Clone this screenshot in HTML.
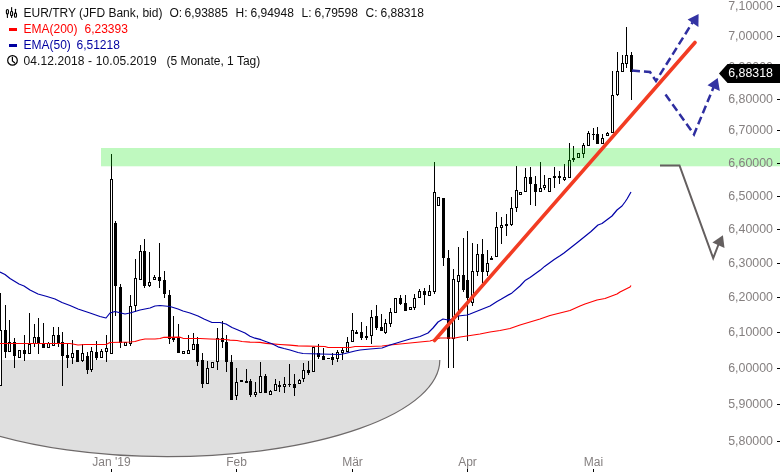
<!DOCTYPE html>
<html><head><meta charset="utf-8"><style>
html,body{margin:0;padding:0;background:#fff;width:780px;height:472px;overflow:hidden}
svg{display:block;will-change:transform}
</style></head><body>
<svg width="780" height="472" viewBox="0 0 780 472"><defs><clipPath id="ec"><rect x="0" y="360" width="780" height="112"/></clipPath><clipPath id="pc"><rect x="0" y="0" width="705" height="472"/></clipPath></defs><g clip-path="url(#ec)"><ellipse cx="167.3" cy="360" rx="272.5" ry="96.7" fill="#dfdfdf" stroke="#6e6a6a" stroke-width="1.2"/></g><g shape-rendering="crispEdges"><rect x="0" y="293" width="1" height="93" fill="#000"/><rect x="-1" y="330" width="3" height="56" fill="#000"/><rect x="0" y="331" width="1" height="54" fill="#fff"/><rect x="5" y="305" width="1" height="53" fill="#000"/><rect x="4" y="330" width="3" height="22" fill="#000"/><rect x="9" y="320" width="1" height="32" fill="#000"/><rect x="8" y="342" width="3" height="10" fill="#000"/><rect x="9" y="343" width="1" height="8" fill="#fff"/><rect x="14" y="338" width="1" height="30" fill="#000"/><rect x="13" y="342" width="3" height="14" fill="#000"/><rect x="19" y="350" width="1" height="8" fill="#000"/><rect x="18" y="350" width="3" height="8" fill="#000"/><rect x="19" y="351" width="1" height="6" fill="#fff"/><rect x="24" y="335" width="1" height="26" fill="#000"/><rect x="23" y="350" width="3" height="4" fill="#000"/><rect x="29" y="313" width="1" height="41" fill="#000"/><rect x="28" y="344" width="3" height="10" fill="#000"/><rect x="29" y="345" width="1" height="8" fill="#fff"/><rect x="34" y="324" width="1" height="23" fill="#000"/><rect x="33" y="337" width="3" height="7" fill="#000"/><rect x="34" y="338" width="1" height="5" fill="#fff"/><rect x="38" y="318" width="1" height="36" fill="#000"/><rect x="37" y="337" width="3" height="7" fill="#000"/><rect x="43" y="323" width="1" height="25" fill="#000"/><rect x="42" y="344" width="3" height="4" fill="#000"/><rect x="48" y="342" width="1" height="6" fill="#000"/><rect x="47" y="343" width="3" height="5" fill="#000"/><rect x="48" y="344" width="1" height="3" fill="#fff"/><rect x="53" y="327" width="1" height="19" fill="#000"/><rect x="52" y="335" width="3" height="11" fill="#000"/><rect x="53" y="336" width="1" height="9" fill="#fff"/><rect x="58" y="327" width="1" height="20" fill="#000"/><rect x="57" y="335" width="3" height="9" fill="#000"/><rect x="62" y="332" width="1" height="54" fill="#000"/><rect x="61" y="342" width="3" height="14" fill="#000"/><rect x="67" y="344" width="1" height="24" fill="#000"/><rect x="66" y="355" width="3" height="3" fill="#000"/><rect x="72" y="340" width="1" height="24" fill="#000"/><rect x="71" y="353" width="3" height="5" fill="#000"/><rect x="72" y="354" width="1" height="3" fill="#fff"/><rect x="77" y="350" width="1" height="12" fill="#000"/><rect x="76" y="350" width="3" height="12" fill="#000"/><rect x="82" y="344" width="1" height="18" fill="#000"/><rect x="81" y="353" width="3" height="8" fill="#000"/><rect x="82" y="354" width="1" height="6" fill="#fff"/><rect x="87" y="352" width="1" height="22" fill="#000"/><rect x="86" y="356" width="3" height="14" fill="#000"/><rect x="91" y="347" width="1" height="25" fill="#000"/><rect x="90" y="351" width="3" height="19" fill="#000"/><rect x="91" y="352" width="1" height="17" fill="#fff"/><rect x="96" y="341" width="1" height="19" fill="#000"/><rect x="95" y="352" width="3" height="6" fill="#000"/><rect x="101" y="349" width="1" height="9" fill="#000"/><rect x="100" y="351" width="3" height="7" fill="#000"/><rect x="101" y="352" width="1" height="5" fill="#fff"/><rect x="106" y="335" width="1" height="27" fill="#000"/><rect x="105" y="348" width="3" height="4" fill="#000"/><rect x="106" y="349" width="1" height="2" fill="#fff"/><rect x="111" y="154" width="1" height="200" fill="#000"/><rect x="110" y="179" width="3" height="175" fill="#000"/><rect x="111" y="180" width="1" height="173" fill="#fff"/><rect x="115" y="221" width="1" height="95" fill="#000"/><rect x="114" y="223" width="3" height="63" fill="#000"/><rect x="120" y="284" width="1" height="64" fill="#000"/><rect x="119" y="287" width="3" height="56" fill="#000"/><rect x="125" y="342" width="1" height="4" fill="#000"/><rect x="124" y="342" width="3" height="4" fill="#000"/><rect x="125" y="343" width="1" height="2" fill="#fff"/><rect x="130" y="295" width="1" height="51" fill="#000"/><rect x="129" y="306" width="3" height="38" fill="#000"/><rect x="130" y="307" width="1" height="36" fill="#fff"/><rect x="135" y="259" width="1" height="53" fill="#000"/><rect x="134" y="278" width="3" height="28" fill="#000"/><rect x="135" y="279" width="1" height="26" fill="#fff"/><rect x="140" y="245" width="1" height="35" fill="#000"/><rect x="139" y="251" width="3" height="29" fill="#000"/><rect x="140" y="252" width="1" height="27" fill="#fff"/><rect x="144" y="239" width="1" height="49" fill="#000"/><rect x="143" y="251" width="3" height="35" fill="#000"/><rect x="149" y="252" width="1" height="35" fill="#000"/><rect x="148" y="282" width="3" height="4" fill="#000"/><rect x="149" y="283" width="1" height="2" fill="#fff"/><rect x="154" y="275" width="1" height="5" fill="#000"/><rect x="153" y="277" width="3" height="3" fill="#000"/><rect x="154" y="278" width="1" height="1" fill="#fff"/><rect x="159" y="243" width="1" height="45" fill="#000"/><rect x="158" y="277" width="3" height="4" fill="#000"/><rect x="164" y="271" width="1" height="27" fill="#000"/><rect x="163" y="280" width="3" height="14" fill="#000"/><rect x="169" y="290" width="1" height="54" fill="#000"/><rect x="168" y="295" width="3" height="44" fill="#000"/><rect x="173" y="316" width="1" height="26" fill="#000"/><rect x="172" y="337" width="3" height="3" fill="#000"/><rect x="178" y="324" width="1" height="29" fill="#000"/><rect x="177" y="337" width="3" height="16" fill="#000"/><rect x="183" y="351" width="1" height="3" fill="#000"/><rect x="182" y="351" width="3" height="3" fill="#000"/><rect x="183" y="352" width="1" height="1" fill="#fff"/><rect x="188" y="335" width="1" height="19" fill="#000"/><rect x="187" y="350" width="3" height="4" fill="#000"/><rect x="188" y="351" width="1" height="2" fill="#fff"/><rect x="193" y="333" width="1" height="17" fill="#000"/><rect x="192" y="344" width="3" height="6" fill="#000"/><rect x="193" y="345" width="1" height="4" fill="#fff"/><rect x="197" y="337" width="1" height="29" fill="#000"/><rect x="196" y="344" width="3" height="18" fill="#000"/><rect x="202" y="353" width="1" height="35" fill="#000"/><rect x="201" y="360" width="3" height="24" fill="#000"/><rect x="207" y="361" width="1" height="23" fill="#000"/><rect x="206" y="368" width="3" height="16" fill="#000"/><rect x="207" y="369" width="1" height="14" fill="#fff"/><rect x="212" y="362" width="1" height="6" fill="#000"/><rect x="211" y="362" width="3" height="6" fill="#000"/><rect x="212" y="363" width="1" height="4" fill="#fff"/><rect x="217" y="328" width="1" height="42" fill="#000"/><rect x="216" y="338" width="3" height="24" fill="#000"/><rect x="217" y="339" width="1" height="22" fill="#fff"/><rect x="222" y="321" width="1" height="27" fill="#000"/><rect x="221" y="338" width="3" height="4" fill="#000"/><rect x="226" y="335" width="1" height="37" fill="#000"/><rect x="225" y="342" width="3" height="20" fill="#000"/><rect x="231" y="355" width="1" height="45" fill="#000"/><rect x="230" y="362" width="3" height="38" fill="#000"/><rect x="236" y="368" width="1" height="32" fill="#000"/><rect x="235" y="382" width="3" height="14" fill="#000"/><rect x="236" y="383" width="1" height="12" fill="#fff"/><rect x="241" y="380" width="1" height="2" fill="#000"/><rect x="240" y="380" width="3" height="2" fill="#000"/><rect x="246" y="369" width="1" height="14" fill="#000"/><rect x="245" y="381" width="3" height="2" fill="#000"/><rect x="250" y="379" width="1" height="18" fill="#000"/><rect x="249" y="381" width="3" height="14" fill="#000"/><rect x="255" y="382" width="1" height="15" fill="#000"/><rect x="254" y="392" width="3" height="3" fill="#000"/><rect x="255" y="393" width="1" height="1" fill="#fff"/><rect x="260" y="362" width="1" height="31" fill="#000"/><rect x="259" y="376" width="3" height="17" fill="#000"/><rect x="260" y="377" width="1" height="15" fill="#fff"/><rect x="265" y="374" width="1" height="19" fill="#000"/><rect x="264" y="376" width="3" height="17" fill="#000"/><rect x="270" y="390" width="1" height="5" fill="#000"/><rect x="269" y="391" width="3" height="4" fill="#000"/><rect x="270" y="392" width="1" height="2" fill="#fff"/><rect x="275" y="379" width="1" height="12" fill="#000"/><rect x="274" y="384" width="3" height="7" fill="#000"/><rect x="275" y="385" width="1" height="5" fill="#fff"/><rect x="279" y="381" width="1" height="11" fill="#000"/><rect x="278" y="385" width="3" height="2" fill="#000"/><rect x="284" y="377" width="1" height="16" fill="#000"/><rect x="283" y="384" width="3" height="3" fill="#000"/><rect x="284" y="385" width="1" height="1" fill="#fff"/><rect x="289" y="364" width="1" height="23" fill="#000"/><rect x="288" y="384" width="3" height="1" fill="#000"/><rect x="294" y="374" width="1" height="22" fill="#000"/><rect x="293" y="384" width="3" height="4" fill="#000"/><rect x="299" y="379" width="1" height="5" fill="#000"/><rect x="298" y="380" width="3" height="4" fill="#000"/><rect x="299" y="381" width="1" height="2" fill="#fff"/><rect x="303" y="363" width="1" height="19" fill="#000"/><rect x="302" y="370" width="3" height="9" fill="#000"/><rect x="303" y="371" width="1" height="7" fill="#fff"/><rect x="308" y="361" width="1" height="14" fill="#000"/><rect x="307" y="370" width="3" height="3" fill="#000"/><rect x="313" y="347" width="1" height="25" fill="#000"/><rect x="312" y="347" width="3" height="25" fill="#000"/><rect x="313" y="348" width="1" height="23" fill="#fff"/><rect x="318" y="344" width="1" height="15" fill="#000"/><rect x="317" y="353" width="3" height="4" fill="#000"/><rect x="323" y="348" width="1" height="12" fill="#000"/><rect x="322" y="356" width="3" height="4" fill="#000"/><rect x="328" y="358" width="1" height="1" fill="#000"/><rect x="327" y="358" width="3" height="1" fill="#000"/><rect x="332" y="353" width="1" height="12" fill="#000"/><rect x="331" y="357" width="3" height="3" fill="#000"/><rect x="337" y="350" width="1" height="12" fill="#000"/><rect x="336" y="352" width="3" height="7" fill="#000"/><rect x="337" y="353" width="1" height="5" fill="#fff"/><rect x="342" y="348" width="1" height="12" fill="#000"/><rect x="341" y="350" width="3" height="3" fill="#000"/><rect x="342" y="351" width="1" height="1" fill="#fff"/><rect x="347" y="337" width="1" height="15" fill="#000"/><rect x="346" y="342" width="3" height="10" fill="#000"/><rect x="347" y="343" width="1" height="8" fill="#fff"/><rect x="352" y="313" width="1" height="29" fill="#000"/><rect x="351" y="330" width="3" height="12" fill="#000"/><rect x="352" y="331" width="1" height="10" fill="#fff"/><rect x="356" y="330" width="1" height="4" fill="#000"/><rect x="355" y="332" width="3" height="2" fill="#000"/><rect x="361" y="322" width="1" height="18" fill="#000"/><rect x="360" y="332" width="3" height="6" fill="#000"/><rect x="366" y="326" width="1" height="14" fill="#000"/><rect x="365" y="336" width="3" height="2" fill="#000"/><rect x="371" y="310" width="1" height="34" fill="#000"/><rect x="370" y="317" width="3" height="19" fill="#000"/><rect x="371" y="318" width="1" height="17" fill="#fff"/><rect x="376" y="305" width="1" height="25" fill="#000"/><rect x="375" y="316" width="3" height="12" fill="#000"/><rect x="381" y="314" width="1" height="17" fill="#000"/><rect x="380" y="327" width="3" height="4" fill="#000"/><rect x="385" y="319" width="1" height="15" fill="#000"/><rect x="384" y="323" width="3" height="10" fill="#000"/><rect x="385" y="324" width="1" height="8" fill="#fff"/><rect x="390" y="308" width="1" height="19" fill="#000"/><rect x="389" y="312" width="3" height="12" fill="#000"/><rect x="390" y="313" width="1" height="10" fill="#fff"/><rect x="395" y="298" width="1" height="15" fill="#000"/><rect x="394" y="298" width="3" height="15" fill="#000"/><rect x="395" y="299" width="1" height="13" fill="#fff"/><rect x="400" y="295" width="1" height="10" fill="#000"/><rect x="399" y="298" width="3" height="6" fill="#000"/><rect x="405" y="295" width="1" height="16" fill="#000"/><rect x="404" y="303" width="3" height="8" fill="#000"/><rect x="410" y="307" width="1" height="3" fill="#000"/><rect x="409" y="307" width="3" height="3" fill="#000"/><rect x="410" y="308" width="1" height="1" fill="#fff"/><rect x="414" y="294" width="1" height="16" fill="#000"/><rect x="413" y="298" width="3" height="10" fill="#000"/><rect x="414" y="299" width="1" height="8" fill="#fff"/><rect x="419" y="289" width="1" height="9" fill="#000"/><rect x="418" y="291" width="3" height="7" fill="#000"/><rect x="419" y="292" width="1" height="5" fill="#fff"/><rect x="424" y="288" width="1" height="17" fill="#000"/><rect x="423" y="291" width="3" height="4" fill="#000"/><rect x="429" y="285" width="1" height="11" fill="#000"/><rect x="428" y="291" width="3" height="5" fill="#000"/><rect x="429" y="292" width="1" height="3" fill="#fff"/><rect x="434" y="162" width="1" height="132" fill="#000"/><rect x="433" y="192" width="3" height="100" fill="#000"/><rect x="434" y="193" width="1" height="98" fill="#fff"/><rect x="438" y="197" width="1" height="9" fill="#000"/><rect x="437" y="197" width="3" height="9" fill="#000"/><rect x="438" y="198" width="1" height="7" fill="#fff"/><rect x="443" y="198" width="1" height="68" fill="#000"/><rect x="442" y="198" width="3" height="60" fill="#000"/><rect x="448" y="250" width="1" height="118" fill="#000"/><rect x="447" y="258" width="3" height="81" fill="#000"/><rect x="453" y="269" width="1" height="99" fill="#000"/><rect x="452" y="279" width="3" height="60" fill="#000"/><rect x="453" y="280" width="1" height="58" fill="#fff"/><rect x="458" y="247" width="1" height="73" fill="#000"/><rect x="457" y="275" width="3" height="7" fill="#000"/><rect x="458" y="276" width="1" height="5" fill="#fff"/><rect x="463" y="238" width="1" height="54" fill="#000"/><rect x="462" y="275" width="3" height="15" fill="#000"/><rect x="467" y="231" width="1" height="110" fill="#000"/><rect x="466" y="280" width="3" height="18" fill="#000"/><rect x="472" y="243" width="1" height="63" fill="#000"/><rect x="471" y="271" width="3" height="32" fill="#000"/><rect x="472" y="272" width="1" height="30" fill="#fff"/><rect x="477" y="244" width="1" height="32" fill="#000"/><rect x="476" y="254" width="3" height="18" fill="#000"/><rect x="477" y="255" width="1" height="16" fill="#fff"/><rect x="482" y="239" width="1" height="44" fill="#000"/><rect x="481" y="254" width="3" height="18" fill="#000"/><rect x="487" y="250" width="1" height="26" fill="#000"/><rect x="486" y="263" width="3" height="9" fill="#000"/><rect x="487" y="264" width="1" height="7" fill="#fff"/><rect x="491" y="256" width="1" height="4" fill="#000"/><rect x="490" y="258" width="3" height="2" fill="#000"/><rect x="496" y="212" width="1" height="45" fill="#000"/><rect x="495" y="227" width="3" height="30" fill="#000"/><rect x="496" y="228" width="1" height="28" fill="#fff"/><rect x="501" y="217" width="1" height="27" fill="#000"/><rect x="500" y="225" width="3" height="3" fill="#000"/><rect x="501" y="226" width="1" height="1" fill="#fff"/><rect x="506" y="214" width="1" height="22" fill="#000"/><rect x="505" y="224" width="3" height="2" fill="#000"/><rect x="511" y="197" width="1" height="29" fill="#000"/><rect x="510" y="208" width="3" height="17" fill="#000"/><rect x="511" y="209" width="1" height="15" fill="#fff"/><rect x="516" y="166" width="1" height="46" fill="#000"/><rect x="515" y="190" width="3" height="18" fill="#000"/><rect x="516" y="191" width="1" height="16" fill="#fff"/><rect x="520" y="192" width="1" height="3" fill="#000"/><rect x="519" y="192" width="3" height="3" fill="#000"/><rect x="520" y="193" width="1" height="1" fill="#fff"/><rect x="525" y="168" width="1" height="24" fill="#000"/><rect x="524" y="177" width="3" height="15" fill="#000"/><rect x="525" y="178" width="1" height="13" fill="#fff"/><rect x="530" y="167" width="1" height="38" fill="#000"/><rect x="529" y="177" width="3" height="7" fill="#000"/><rect x="535" y="176" width="1" height="30" fill="#000"/><rect x="534" y="184" width="3" height="8" fill="#000"/><rect x="540" y="162" width="1" height="30" fill="#000"/><rect x="539" y="188" width="3" height="4" fill="#000"/><rect x="540" y="189" width="1" height="2" fill="#fff"/><rect x="544" y="175" width="1" height="15" fill="#000"/><rect x="543" y="185" width="3" height="3" fill="#000"/><rect x="544" y="186" width="1" height="1" fill="#fff"/><rect x="549" y="178" width="1" height="14" fill="#000"/><rect x="548" y="178" width="3" height="14" fill="#000"/><rect x="549" y="179" width="1" height="12" fill="#fff"/><rect x="554" y="167" width="1" height="21" fill="#000"/><rect x="553" y="176" width="3" height="2" fill="#000"/><rect x="559" y="171" width="1" height="13" fill="#000"/><rect x="558" y="176" width="3" height="2" fill="#000"/><rect x="564" y="164" width="1" height="17" fill="#000"/><rect x="563" y="177" width="3" height="3" fill="#000"/><rect x="564" y="178" width="1" height="1" fill="#fff"/><rect x="569" y="143" width="1" height="35" fill="#000"/><rect x="568" y="160" width="3" height="18" fill="#000"/><rect x="569" y="161" width="1" height="16" fill="#fff"/><rect x="573" y="146" width="1" height="16" fill="#000"/><rect x="572" y="158" width="3" height="2" fill="#000"/><rect x="578" y="153" width="1" height="5" fill="#000"/><rect x="577" y="153" width="3" height="5" fill="#000"/><rect x="578" y="154" width="1" height="3" fill="#fff"/><rect x="583" y="143" width="1" height="15" fill="#000"/><rect x="582" y="145" width="3" height="9" fill="#000"/><rect x="583" y="146" width="1" height="7" fill="#fff"/><rect x="588" y="131" width="1" height="15" fill="#000"/><rect x="587" y="133" width="3" height="13" fill="#000"/><rect x="588" y="134" width="1" height="11" fill="#fff"/><rect x="593" y="128" width="1" height="12" fill="#000"/><rect x="592" y="134" width="3" height="1" fill="#000"/><rect x="597" y="127" width="1" height="17" fill="#000"/><rect x="596" y="134" width="3" height="10" fill="#000"/><rect x="602" y="134" width="1" height="10" fill="#000"/><rect x="601" y="138" width="3" height="6" fill="#000"/><rect x="602" y="139" width="1" height="4" fill="#fff"/><rect x="607" y="132" width="1" height="4" fill="#000"/><rect x="606" y="133" width="3" height="3" fill="#000"/><rect x="607" y="134" width="1" height="1" fill="#fff"/><rect x="612" y="71" width="1" height="62" fill="#000"/><rect x="611" y="95" width="3" height="38" fill="#000"/><rect x="612" y="96" width="1" height="36" fill="#fff"/><rect x="617" y="52" width="1" height="44" fill="#000"/><rect x="616" y="71" width="3" height="24" fill="#000"/><rect x="617" y="72" width="1" height="22" fill="#fff"/><rect x="622" y="55" width="1" height="17" fill="#000"/><rect x="621" y="63" width="3" height="9" fill="#000"/><rect x="622" y="64" width="1" height="7" fill="#fff"/><rect x="626" y="27" width="1" height="41" fill="#000"/><rect x="625" y="55" width="3" height="9" fill="#000"/><rect x="626" y="56" width="1" height="7" fill="#fff"/><rect x="631" y="52" width="1" height="48" fill="#000"/><rect x="630" y="55" width="3" height="17" fill="#000"/></g><polyline points="0,343.5 70,343.5 78,345 85,344.5 106,344.5 110,342.5 130,342 135,341.5 140,340 145,339 155,339 160,338.5 164,337.3 180,337.2 183,338.3 200,338.5 210,339 226,339.5 230,340.2 237,340.5 242,341.5 250,342.2 260,342.3 266,343.3 272,343.8 280,344.5 290,345.2 298,345.8 325,346.5 328,347.5 350,347.5 355,346.5 370,346.5 382,346 390,345 400,344 410,343 420,342 430,341 440,338 455,338 460,337 467,336 480,334 490,332 500,330.5 510,328.5 520,325 530,322 540,319 550,315.5 560,313 570,310.5 580,306 585,304 597,300 605,298.5 617,294 620,292 630,287 631,285.5" fill="none" stroke="#ff0000" stroke-width="1.2" stroke-linejoin="round"/><polyline points="0,272 5,274.5 10,278.5 19,284 24,286 30,290 38,294 47,296.5 55,299 62,302.5 70,305.5 78,309 90,313 100,316.5 106,318 110,313 115,311.5 125,314 130,313 140,310 150,308 155,306 160,305.5 165,306 170,306.5 178,309 183,311 190,313 198,316 204,319 212,322.5 220,322.5 226,324 232,327.5 238,330 245,333 250,336.2 255,338.2 261,339.7 267,342 272,343.8 278,346.8 284,348.5 290,350 298,352.5 303,353.5 320,354 340,354.5 345,353.5 355,351 360,350 370,349 382,348 390,345 400,342 410,339 420,336.5 428,333 433,328 438,322 443,319 448,320 453,319 458,316 467,315 470,314 480,310 490,306 497,301.5 501,299.3 512,292.9 520,286 525.5,280.2 530,277.5 540.4,270.1 544.6,266.4 554.2,259.5 560,255.8 564,253 578,242 591,231.5 598,225 602,223.5 608,219 612,216 617,210 622,206 625,202 627,199 631,192" fill="none" stroke="#0000a8" stroke-width="1.2" stroke-linejoin="round"/><rect x="101" y="148" width="679" height="18.3" fill="rgb(0,230,0)" fill-opacity="0.25"/><line x1="434.5" y1="340.5" x2="695" y2="42.5" stroke="#f23c23" stroke-width="3.6" stroke-linecap="round"/><polyline points="632,70.5 650,72 656,81 692.5,22.5" fill="none" stroke="#2e2ea0" stroke-width="2.5" stroke-dasharray="8,4"/><polygon points="698.6,14 687.6,19.5 698.4,27" fill="#3333a3"/><polyline points="665.5,94.5 694,134.4 714.5,85" fill="none" stroke="#2e2ea0" stroke-width="2.5" stroke-dasharray="8,4"/><polygon points="717.7,78.1 707.5,85.3 719.8,90.9" fill="#3333a3"/><polyline points="660,165.5 679.5,165.5 713.2,258.2 718.5,244.5" fill="none" stroke="#645f5f" stroke-width="2" stroke-linejoin="miter"/><polygon points="722.9,235.3 712.4,242.4 724.5,247.9" fill="#645f5f"/><rect x="777" y="6" width="3" height="1" fill="#000" shape-rendering="crispEdges"/><text x="773" y="10.0" text-anchor="end" font-size="12.4" fill="#858080" font-family="Liberation Sans, Arial, sans-serif">7,10000</text><rect x="777" y="36" width="3" height="1" fill="#000" shape-rendering="crispEdges"/><text x="773" y="40.0" text-anchor="end" font-size="12.4" fill="#858080" font-family="Liberation Sans, Arial, sans-serif">7,00000</text><rect x="777" y="67" width="3" height="1" fill="#000" shape-rendering="crispEdges"/><text x="773" y="71.0" text-anchor="end" font-size="12.4" fill="#858080" font-family="Liberation Sans, Arial, sans-serif">6,90000</text><rect x="777" y="99" width="3" height="1" fill="#000" shape-rendering="crispEdges"/><text x="773" y="103.0" text-anchor="end" font-size="12.4" fill="#858080" font-family="Liberation Sans, Arial, sans-serif">6,80000</text><rect x="777" y="130" width="3" height="1" fill="#000" shape-rendering="crispEdges"/><text x="773" y="134.0" text-anchor="end" font-size="12.4" fill="#858080" font-family="Liberation Sans, Arial, sans-serif">6,70000</text><rect x="777" y="163" width="3" height="1" fill="#000" shape-rendering="crispEdges"/><text x="773" y="167.0" text-anchor="end" font-size="12.4" fill="#858080" font-family="Liberation Sans, Arial, sans-serif">6,60000</text><rect x="777" y="196" width="3" height="1" fill="#000" shape-rendering="crispEdges"/><text x="773" y="200.0" text-anchor="end" font-size="12.4" fill="#858080" font-family="Liberation Sans, Arial, sans-serif">6,50000</text><rect x="777" y="229" width="3" height="1" fill="#000" shape-rendering="crispEdges"/><text x="773" y="233.0" text-anchor="end" font-size="12.4" fill="#858080" font-family="Liberation Sans, Arial, sans-serif">6,40000</text><rect x="777" y="263" width="3" height="1" fill="#000" shape-rendering="crispEdges"/><text x="773" y="267.0" text-anchor="end" font-size="12.4" fill="#858080" font-family="Liberation Sans, Arial, sans-serif">6,30000</text><rect x="777" y="297" width="3" height="1" fill="#000" shape-rendering="crispEdges"/><text x="773" y="301.0" text-anchor="end" font-size="12.4" fill="#858080" font-family="Liberation Sans, Arial, sans-serif">6,20000</text><rect x="777" y="332" width="3" height="1" fill="#000" shape-rendering="crispEdges"/><text x="773" y="336.0" text-anchor="end" font-size="12.4" fill="#858080" font-family="Liberation Sans, Arial, sans-serif">6,10000</text><rect x="777" y="368" width="3" height="1" fill="#000" shape-rendering="crispEdges"/><text x="773" y="372.0" text-anchor="end" font-size="12.4" fill="#858080" font-family="Liberation Sans, Arial, sans-serif">6,00000</text><rect x="777" y="404" width="3" height="1" fill="#000" shape-rendering="crispEdges"/><text x="773" y="408.0" text-anchor="end" font-size="12.4" fill="#858080" font-family="Liberation Sans, Arial, sans-serif">5,90000</text><rect x="777" y="441" width="3" height="1" fill="#000" shape-rendering="crispEdges"/><text x="773" y="445.0" text-anchor="end" font-size="12.4" fill="#858080" font-family="Liberation Sans, Arial, sans-serif">5,80000</text><polygon points="719,73.5 727.5,64 780,64 780,83 727.5,83" fill="#000"/><text x="773" y="77.4" text-anchor="end" font-size="12.4" fill="#fff" font-family="Liberation Sans, Arial, sans-serif">6,88318</text><rect x="111" y="469" width="1" height="3" fill="#000" shape-rendering="crispEdges"/><text x="111.5" y="466" text-anchor="middle" font-size="12" fill="#858080" font-family="Liberation Sans, Arial, sans-serif">Jan '19</text><rect x="236" y="469" width="1" height="3" fill="#000" shape-rendering="crispEdges"/><text x="236.5" y="466" text-anchor="middle" font-size="12" fill="#858080" font-family="Liberation Sans, Arial, sans-serif">Feb</text><rect x="352" y="469" width="1" height="3" fill="#000" shape-rendering="crispEdges"/><text x="352.5" y="466" text-anchor="middle" font-size="12" fill="#858080" font-family="Liberation Sans, Arial, sans-serif">Mär</text><rect x="467" y="469" width="1" height="3" fill="#000" shape-rendering="crispEdges"/><text x="467.5" y="466" text-anchor="middle" font-size="12" fill="#858080" font-family="Liberation Sans, Arial, sans-serif">Apr</text><rect x="593" y="469" width="1" height="3" fill="#000" shape-rendering="crispEdges"/><text x="593.5" y="466" text-anchor="middle" font-size="12" fill="#858080" font-family="Liberation Sans, Arial, sans-serif">Mai</text><text y="16.5" font-size="12" fill="#111" font-family="Liberation Sans, Arial, sans-serif" xml:space="preserve"><tspan x="23.5">EUR/TRY (JFD Bank, bid)</tspan><tspan x="169.5">O:</tspan><tspan x="184.5">6,93885</tspan><tspan x="235.5">H:</tspan><tspan x="250.5">6,94948</tspan><tspan x="301.5">L:</tspan><tspan x="314.5">6,79598</tspan><tspan x="365.5">C:</tspan><tspan x="380.5">6,88318</tspan></text><rect x="9" y="28" width="8" height="3" fill="#ff0000"/><text y="32.5" font-size="12" fill="#ff0000" font-family="Liberation Sans, Arial, sans-serif"><tspan x="23.5">EMA(200)</tspan><tspan x="84.5">6,23393</tspan></text><rect x="9" y="44" width="8" height="3" fill="#0000a0"/><text y="48.5" font-size="12" fill="#0000a0" font-family="Liberation Sans, Arial, sans-serif"><tspan x="23.5">EMA(50)</tspan><tspan x="76.5">6,51218</tspan></text><text y="64.5" font-size="12" fill="#111" font-family="Liberation Sans, Arial, sans-serif"><tspan x="23.5" letter-spacing="0.11">04.12.2018 - 10.05.2019</tspan><tspan x="166.4">(5 Monate, 1 Tag)</tspan></text><g fill="none" stroke="#000" stroke-width="1.1" stroke-linecap="round"><line x1="7.4" y1="14" x2="7.4" y2="17.5"/><rect x="6.4" y="9.5" width="2" height="4.5" rx="1"/><line x1="11.6" y1="7.5" x2="11.6" y2="11.2"/><line x1="11.6" y1="15.7" x2="11.6" y2="17.5"/><rect x="10.6" y="11.2" width="2" height="4.5" rx="1"/><line x1="15.5" y1="9.3" x2="15.5" y2="12.9"/><rect x="14.5" y="12.9" width="2" height="4.4" rx="1"/></g><g fill="none" stroke="#000" stroke-width="1.2"><circle cx="12.5" cy="60.4" r="4.8"/><polyline points="12.4,57.3 12.4,61 14.6,62.8" stroke-linecap="round"/></g></svg>
</body></html>
